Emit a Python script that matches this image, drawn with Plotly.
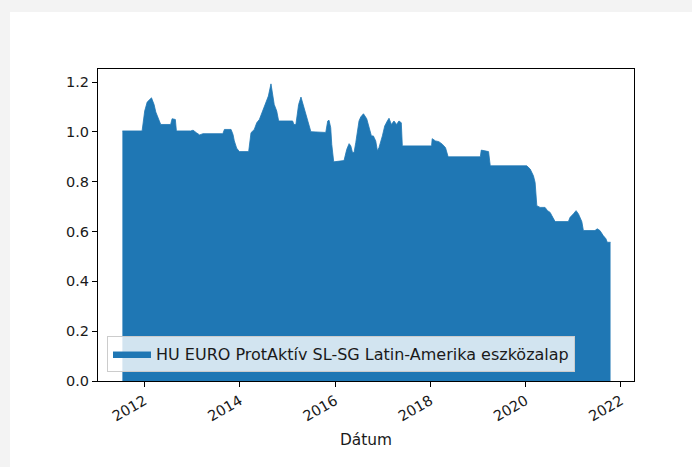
import plotly.graph_objects as go

series_name = "HU EURO ProtAktív SL-SG Latin-Amerika eszközalap"

dates = [
    "2011-07-16", "2011-12-14", "2012-01-03", "2012-01-22", "2012-02-24", "2012-03-15",
    "2012-03-28", "2012-04-15", "2012-05-05", "2012-07-20", "2012-07-31", "2012-08-25",
    "2012-09-02", "2012-12-20", "2013-01-08", "2013-02-02", "2013-02-27", "2013-03-25",
    "2013-08-24", "2013-09-05", "2013-10-26", "2013-11-10", "2013-11-20", "2013-12-08",
    "2013-12-28", "2014-03-10", "2014-03-20", "2014-03-28", "2014-04-22", "2014-05-11",
    "2014-05-31", "2014-06-26", "2014-07-21", "2014-08-08", "2014-08-28", "2014-09-10",
    "2014-09-22", "2014-10-11", "2014-10-26", "2015-02-10", "2015-02-20", "2015-03-07",
    "2015-03-28", "2015-04-15", "2015-05-02", "2015-05-17", "2015-06-05", "2015-06-30",
    "2015-10-22", "2015-11-06", "2015-11-16", "2015-11-29", "2015-12-07", "2015-12-22",
    "2016-03-10", "2016-03-31", "2016-04-18", "2016-05-01", "2016-05-14", "2016-05-26",
    "2016-06-08", "2016-06-21", "2016-07-03", "2016-07-16", "2016-08-06", "2016-08-31",
    "2016-09-18", "2016-10-06", "2016-10-21", "2016-11-08", "2016-11-21", "2016-12-03",
    "2016-12-29", "2017-01-16", "2017-02-05", "2017-02-18", "2017-03-08", "2017-03-28",
    "2017-04-17", "2017-05-05", "2017-05-23", "2017-05-31", "2018-01-10", "2018-01-15",
    "2018-02-09", "2018-03-07", "2018-04-02", "2018-04-27", "2018-05-17", "2019-01-19",
    "2019-01-26", "2019-03-23", "2019-04-05", "2020-01-10", "2020-02-05", "2020-03-01",
    "2020-03-14", "2020-03-27", "2020-04-21", "2020-05-29", "2020-06-17", "2020-07-07",
    "2020-07-20", "2020-08-14", "2020-11-24", "2020-12-07", "2021-01-01", "2021-01-22",
    "2021-02-09", "2021-03-07", "2021-03-19", "2021-06-16", "2021-07-03", "2021-07-24",
    "2021-08-18", "2021-09-08", "2021-09-18", "2021-10-13",
]

values = [
    1.004, 1.004, 1.084, 1.120, 1.137, 1.110,
    1.080, 1.057, 1.030, 1.030, 1.053, 1.050,
    1.004, 1.004, 1.007, 0.997, 0.988, 0.993,
    0.993, 1.010, 1.010, 0.990, 0.964, 0.935,
    0.921, 0.921, 0.964, 0.997, 1.010, 1.037,
    1.050, 1.084, 1.113, 1.144, 1.193, 1.137,
    1.110, 1.084, 1.044, 1.044, 1.030, 1.030,
    1.110, 1.140, 1.110, 1.077, 1.044, 1.001,
    0.998, 1.044, 1.047, 1.017, 0.950, 0.880,
    0.885, 0.930, 0.953, 0.944, 0.917, 0.917,
    0.957, 1.010, 1.044, 1.060, 1.073, 1.053,
    1.017, 0.984, 0.984, 0.964, 0.924, 0.937,
    0.984, 1.024, 1.044, 1.055, 1.030, 1.044,
    1.030, 1.044, 1.037, 0.944, 0.944, 0.973,
    0.964, 0.961, 0.951, 0.937, 0.900, 0.900,
    0.927, 0.921, 0.864, 0.864, 0.851, 0.824,
    0.797, 0.704, 0.697, 0.697, 0.684, 0.677,
    0.664, 0.640, 0.640, 0.657, 0.671, 0.684,
    0.671, 0.640, 0.604, 0.604, 0.611, 0.604,
    0.584, 0.571, 0.557, 0.557,
]

year_ticks = ["2012-01-01", "2014-01-01", "2016-01-01", "2018-01-01", "2020-01-01", "2022-01-01"]
year_labels = ["2012", "2014", "2016", "2018", "2020", "2022"]
y_ticks = [0.0, 0.2, 0.4, 0.6, 0.8, 1.0, 1.2]

W, H = 692, 467
L, R, T, B = 98, 58, 69, 86
pw, ph = W - L - R, H - T - B

fig = go.Figure()
fig.add_trace(go.Scatter(
    x=dates, y=values, mode="lines", fill="tozeroy",
    fillcolor="#1f77b4", line=dict(color="#1f77b4", width=0.8),
    name=series_name, showlegend=True,
))

# white card on light gray page
fig.add_shape(type="rect", xref="paper", yref="paper",
              x0=(10 - L) / pw, x1=(W + 20 - L) / pw,
              y0=-(B + 20) / ph, y1=(H - B - 12) / ph,
              fillcolor="white", line=dict(width=0), layer="below")

axis_common = dict(
    showgrid=False, zeroline=False, showline=True, linecolor="#000000", linewidth=1,
    mirror=True, ticks="outside", ticklen=5, tickwidth=1, tickcolor="#000000",
    tickfont=dict(family="DejaVu Sans", size=14.5, color="#1a1a1a"),
)

fig.update_layout(
    width=W, height=H,
    margin=dict(l=L, r=R, t=T, b=B, pad=0),
    paper_bgcolor="#f3f3f3", plot_bgcolor="white",
    font=dict(family="DejaVu Sans", size=15, color="#1a1a1a"),
    xaxis=dict(
        **axis_common, type="date", range=["2011-01-10", "2022-04-11"],
        tickvals=year_ticks, ticktext=year_labels, tickangle=-30,
        title=dict(text="Dátum", font=dict(family="DejaVu Sans", size=15.4, color="#1a1a1a"), standoff=10),
    ),
    yaxis=dict(
        **axis_common, range=[0, 1.2527], tickvals=y_ticks,
        ticktext=[f"{v:.1f}" for v in y_ticks],
    ),
    legend=dict(
        x=(107 - L) / pw, y=(381 - 372) / ph, xanchor="left", yanchor="bottom",
        bgcolor="rgba(255,255,255,0.8)", bordercolor="#cccccc", borderwidth=1,
        font=dict(family="DejaVu Sans", size=16, color="#1a1a1a"),
        tracegroupgap=0, itemwidth=38,
    ),
    showlegend=True,
)

fig.write_html(
    "out.html",
    config={"displayModeBar": False},
    post_script="document.body.style.margin='0';document.body.style.background='#f3f3f3';",
)
